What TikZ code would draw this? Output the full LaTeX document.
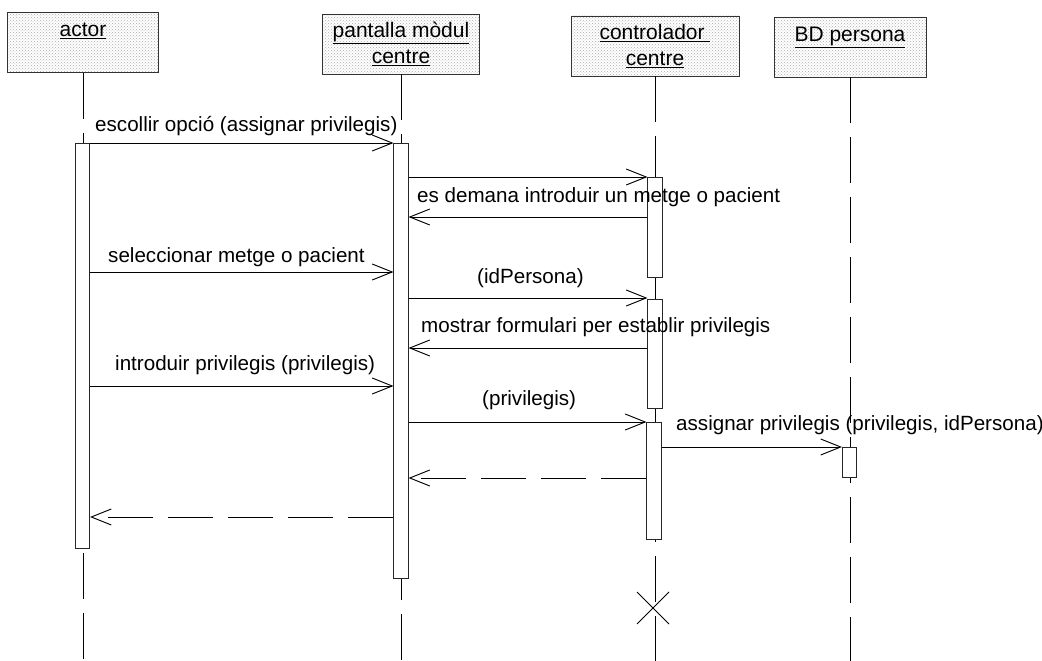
\documentclass[tikz,border=0pt]{standalone}
\usepackage{fontspec}
\setmainfont{Liberation Sans}
\usetikzlibrary{arrows.meta,patterns,calc}
\begin{document}
\begin{tikzpicture}[x=1pt,y=-1pt,
  every node/.style={font=\fontsize{20.6}{26}\selectfont},
  header/.style={draw=black!80,line width=0.8pt,pattern=crosshatch dots,pattern color=black!32,
     align=center,inner sep=0pt,minimum height=60pt,font=\fontsize{21}{26}\selectfont},
  lifeline/.style={line width=0.9pt,dash pattern=on 46pt off 14pt},
  actbox/.style={draw=black!85,fill=white,line width=0.7pt,inner sep=0pt,minimum width=14.5pt},
  msg/.style={line width=0.8pt,-{Straight Barb[length=20pt,width=16pt,line width=0.9pt]}},
  ret/.style={msg,dash pattern=on 45pt off 15pt},
  lbl/.style={anchor=base west,inner sep=0pt}
]
\useasboundingbox (0,0) rectangle (1042,661);
\fill[white] (0,0) rectangle (1042,661);
% headers
\node[header,minimum width=151pt] (hA) at (83,42.5) {\underline{actor}\\\mbox{}};
\node[header,minimum width=157pt] (hP) at (401,44) {\underline{pantalla mòdul}\\\underline{centre}};
\node[header,minimum width=168pt] (hC) at (655,46) {\underline{controlador\ }\\\underline{centre}};
\node[header,minimum width=152pt] (hB) at (850,47) {\underline{BD persona}\\\mbox{}};
% lifelines
\draw[lifeline] (hA.south) -- (hA.south |- 0,661);
\draw[lifeline] (hP.south) -- (hP.south |- 0,661);
\draw[lifeline] (hC.south) -- (hC.south |- 0,661);
\draw[lifeline] (hB.south) -- (hB.south |- 0,661);
% activations
\node[actbox,minimum height=405pt] (aA) at (82.5,345.5) {};
\node[actbox,minimum height=435pt] (aP) at (401,360.5) {};
\node[actbox,minimum height=100pt] (aC1) at (655,227) {};
\node[actbox,minimum height=109pt] (aC2) at (655,353.5) {};
\node[actbox,minimum height=117pt] (aC3) at (654,480.5) {};
\node[actbox,minimum height=30pt] (aB) at (849.5,462) {};
% destroy
\coordinate (xC) at (653,608);
\draw[line width=0.9pt] ($(xC)+(-16,-16)$) -- ($(xC)+(16,16)$) ($(xC)+(-16,16)$) -- ($(xC)+(16,-16)$);
% messages
\draw[msg] (aA.east |- 0,143) -- (aP.west |- 0,143);
\draw[msg] (aP.east |- 0,177) -- (aC1.west |- 0,177);
\draw[msg] (aC1.west |- 0,217) -- (aP.east |- 0,217);
\draw[msg] (aA.east |- 0,272) -- (aP.west |- 0,272);
\draw[msg] (aP.east |- 0,298) -- (aC2.west |- 0,298);
\draw[msg] (aC2.west |- 0,348) -- (aP.east |- 0,348);
\draw[msg] (aA.east |- 0,386) -- (aP.west |- 0,386);
\draw[msg] (aP.east |- 0,422) -- (aC3.west |- 0,422);
\draw[msg] (aC3.east |- 0,447) -- (aB.west |- 0,447);
\draw[ret] (aC3.west |- 0,478) -- (aP.east |- 0,478);
\draw[ret] (aP.west |- 0,517) -- (aA.east |- 0,517);
% labels
\node[lbl] (l1) at (95,131) {escollir opció (assignar privilegis)};
\node[lbl] (l3) at (417,202) {es demana introduir un metge o pacient};
\node[lbl] (l4) at (108,262) {seleccionar metge o pacient};
\node[lbl] (l5) at (477,283) {(idPersona)};
\node[lbl] (l6) at (421,332) {mostrar formulari per establir privilegis};
\node[lbl] (l7) at (115,370) {introduir privilegis (privilegis)};
\node[lbl] (l8) at (482,405) {(privilegis)};
\node[lbl] (l9) at (676,430) {assignar privilegis (privilegis, idPersona)};
\end{tikzpicture}
\end{document}
